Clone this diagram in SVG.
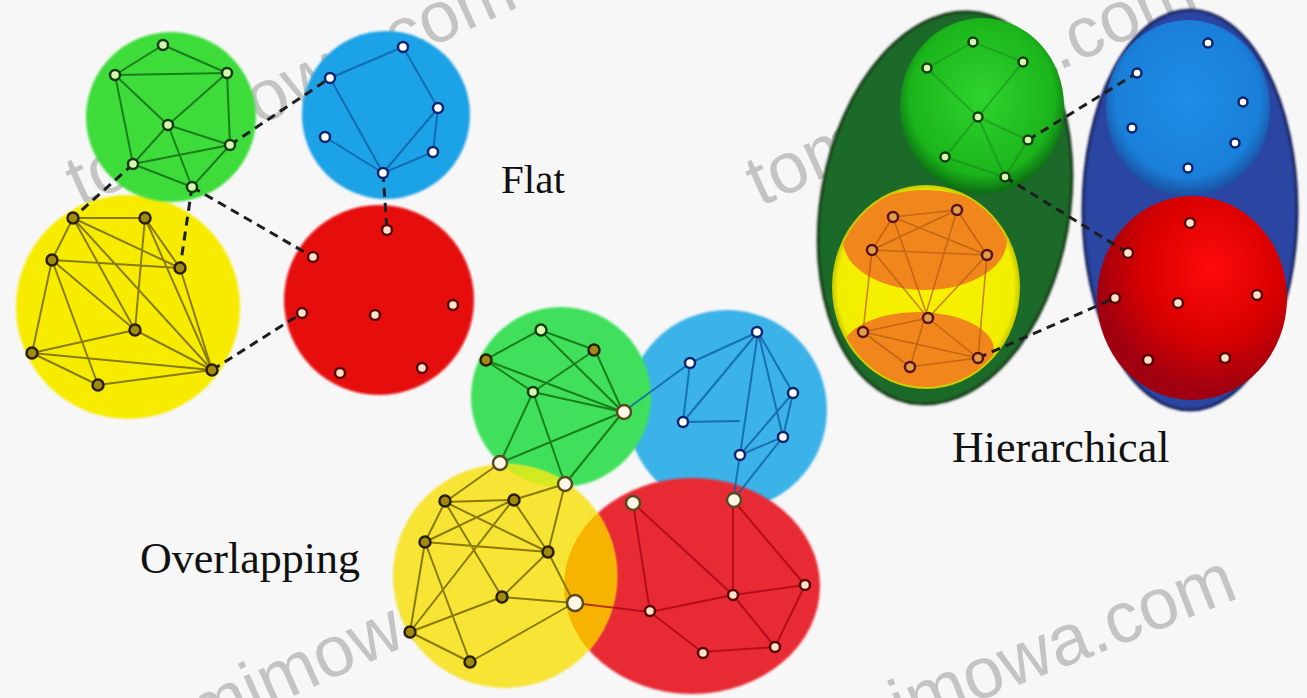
<svg xmlns="http://www.w3.org/2000/svg" width="1307" height="698" viewBox="0 0 1307 698">
<defs>
<style>
.lbl{font-family:"Liberation Serif","Times New Roman",serif;fill:#111}
.wm{font-family:"Liberation Sans",Arial,sans-serif;font-size:72px;fill:#c4c4c4}
.dash{stroke:#1e1e1e;stroke-width:3;stroke-dasharray:9 6;fill:none}
.eg{stroke:#1a7f1a;stroke-width:2;fill:none}
.eb{stroke:#0f5fa8;stroke-width:2;fill:none;opacity:0.8}
.ey{stroke:#8a7a00;stroke-width:2;fill:none}
.er{stroke:#a00010;stroke-width:2;fill:none;opacity:0.7}
.eo{stroke:#b05a10;stroke-width:1.6;fill:none;opacity:0.7}
.ng{fill:#d6f7b0;stroke:#123d0c;stroke-width:2.5}
.nb{fill:#ffffff;stroke:#0a2470;stroke-width:2.5}
.nr{fill:#ffe2c8;stroke:#5a0000;stroke-width:2.5}
.ny{fill:#a08a10;stroke:#2a2000;stroke-width:2.5}
.ns{fill:#fff8e8;stroke:#5a4a20;stroke-width:2.5}
.no{fill:#e0a040;stroke:#5a1020;stroke-width:2.5}
</style>
<filter id="soft" x="-10%" y="-10%" width="120%" height="120%"><feGaussianBlur stdDeviation="1.2"/></filter>
<radialGradient id="gHG" cx="50%" cy="45%" r="55%"><stop offset="0" stop-color="#2ed42e"/><stop offset="0.8" stop-color="#1bb51b"/><stop offset="1" stop-color="#0c6a12"/></radialGradient>
<radialGradient id="gHB" cx="50%" cy="45%" r="55%"><stop offset="0" stop-color="#1e8ee6"/><stop offset="0.8" stop-color="#1a7fd8"/><stop offset="1" stop-color="#1a4fa0"/></radialGradient>
<radialGradient id="gHR" cx="60%" cy="35%" r="60%"><stop offset="0" stop-color="#ff0a0a"/><stop offset="0.6" stop-color="#d80000"/><stop offset="1" stop-color="#a00010"/></radialGradient>
<radialGradient id="gHY" cx="50%" cy="50%" r="52%"><stop offset="0" stop-color="#f8f000"/><stop offset="0.9" stop-color="#f2ee00"/><stop offset="1" stop-color="#a8b000"/></radialGradient>
<linearGradient id="gGY" x1="0" y1="0" x2="0" y2="1"><stop offset="0" stop-color="#60e040"/><stop offset="1" stop-color="#d8ea20"/></linearGradient>
<clipPath id="cYel"><ellipse cx="926" cy="287" rx="92" ry="100"/></clipPath>
<clipPath id="cOvY"><circle cx="505" cy="576" r="112"/></clipPath>
</defs>
<rect width="1307" height="698" fill="#f7f7f7"/>

<!-- watermarks (behind the clusters) -->
<g id="watermarks">
<text class="wm" transform="translate(80 207) rotate(-24.5)">tomimowa.com</text>
<text class="wm" transform="translate(760 207) rotate(-24.5)">tomimowa.com</text>
<text class="wm" transform="translate(145 762) rotate(-24)">tomimowa.com</text>
<text class="wm" transform="translate(790 775) rotate(-21.5)" font-size="75">tomimowa.com</text>
</g>

<!-- FLAT clusters -->
<g id="flat-yellow"><circle cx="128" cy="307" r="112" fill="#f7ec00" filter="url(#soft)"/></g>
<g id="flat-green"><circle cx="171" cy="117" r="85" fill="#3ddc3a" filter="url(#soft)"/></g>
<g id="flat-blue"><circle cx="386" cy="115" r="84" fill="#1fa2e6" filter="url(#soft)"/></g>
<g id="flat-red"><circle cx="379" cy="300" r="95" fill="#e60808" filter="url(#soft)"/></g>
<g id="flat-label"><text class="lbl" x="501" y="193" font-size="41">Flat</text></g>

<!-- OVERLAPPING clusters -->
<g id="ov-blue"><circle cx="727" cy="410" r="100" fill="#3ab2e8" filter="url(#soft)"/></g>
<g id="ov-red"><ellipse cx="692" cy="586" rx="128" ry="108" fill="#e82a34" filter="url(#soft)"/></g>
<g id="ov-green"><circle cx="561" cy="397" r="90" fill="#3fe05c" filter="url(#soft)"/></g>
<g id="ov-yellow"><circle cx="505" cy="576" r="112" fill="#f7e436" filter="url(#soft)"/>
<g clip-path="url(#cOvY)"><ellipse cx="692" cy="586" rx="128" ry="108" fill="#f6b400"/><circle cx="561" cy="397" r="90" fill="url(#gGY)"/></g></g>
<g id="ov-label"><text class="lbl" x="140" y="573" font-size="44">Overlapping</text></g>

<!-- HIERARCHICAL clusters -->
<g id="hi-green-outer"><ellipse cx="945" cy="208" rx="124" ry="198" transform="rotate(10 945 208)" fill="#1f6a2a" stroke="#143a18" stroke-width="3" filter="url(#soft)"/></g>
<g id="hi-blue-outer"><ellipse cx="1190" cy="210" rx="107" ry="200" fill="#2a44a2" stroke="#1a2860" stroke-width="3" filter="url(#soft)"/></g>
<g id="hi-green"><ellipse cx="982" cy="106" rx="82" ry="88" fill="url(#gHG)"/></g>
<g id="hi-yellow"><ellipse cx="926" cy="287" rx="94" ry="102" fill="url(#gHY)"/>
<g clip-path="url(#cYel)"><ellipse cx="925" cy="240" rx="82" ry="50" fill="#f0861c"/><ellipse cx="918" cy="350" rx="76" ry="38" fill="#f0861c"/></g></g>
<g id="hi-blue"><ellipse cx="1188" cy="108" rx="82" ry="88" fill="url(#gHB)"/></g>
<g id="hi-red"><ellipse cx="1192" cy="298" rx="95" ry="102" fill="url(#gHR)"/></g>
<g id="hi-label"><text class="lbl" x="952" y="462" font-size="44">Hierarchical</text></g>

<!-- CONNECTORS -->
<g id="connectors">
<path class="eg" d="M163 45L115 75M163 45L227 73M115 75L227 73M115 75L168 125M227 73L168 125M227 73L230 145M168 125L230 145M168 125L133 164M168 125L192 187M133 164L230 145M133 164L192 187M230 145L192 187M115 75L133 164"/>
<path class="eb" opacity="0.45" d="M403 47L330 78M403 47L438 108M330 78L383 173M438 108L433 152M438 108L383 173M433 152L383 173M325 137L383 173"/>
<path class="ey" d="M73 218L52 260M73 218L180 268M73 218L135 330M73 218L212 370M145 218L180 268M145 218L135 330M145 218L212 370M52 260L180 268M52 260L32 353M52 260L135 330M52 260L98 385M180 268L212 370M135 330L32 353M135 330L212 370M32 353L212 370M32 353L98 385M98 385L212 370M73 218L145 218"/>
<path class="dash" d="M230 145L330 78M133 164L73 218M192 187L180 268M192 187L313 257M212 370L302 313M383 173L387 230"/>
<path class="eg" d="M485 360L540 330M540 330L595 350M485 360L533 392M485 360L623 412M540 330L623 412M595 350L623 412M533 392L623 412M533 392L500 463M533 392L565 484M500 463L623 412M565 484L623 412M595 350L533 392"/>
<path class="eb" d="M623 412L690 363M690 363L758 332M690 363L683 422M683 422L758 332M683 422L740 421M758 332L793 393M758 332L783 437M793 393L783 437M793 393L740 455M783 437L740 455M740 455L733 500M783 437L733 500M758 332L740 455"/>
<path class="ey" d="M500 463L445 502M445 502L513 500M445 502L548 552M445 502L425 542M445 502L502 597M513 500L548 552M513 500L425 542M425 542L548 552M425 542L410 632M425 542L470 662M548 552L502 597M548 552L574 603M502 597L410 632M502 597L574 603M410 632L470 662M470 662L574 603M565 484L548 552M513 500L410 632M565 484L513 500"/>
<path class="er" d="M633 503L650 612M633 503L733 595M733 500L805 585M733 500L733 595M650 612L733 595M733 595L805 585M733 595L775 647M650 612L702 652M702 652L775 647M805 585L775 647M574 603L650 612"/>
<path class="eg" opacity="0.45" d="M927 68L973 42M973 42L1023 62M927 68L978 117M1023 62L978 117M978 117L1028 140M978 117L945 157M978 117L1005 177M945 157L1005 177M1028 140L1005 177"/>
<path class="eo" d="M893 217L957 210M893 217L872 250M893 217L987 255M893 217L928 318M957 210L987 255M957 210L872 250M872 250L987 255M872 250L863 332M872 250L928 318M987 255L928 318M987 255L978 358M928 318L863 332M928 318L978 358M863 332L910 367M910 367L978 358M863 332L978 358M957 210L910 367"/>
<path class="dash" d="M1028 140L1137 73M1005 177L1128 253M978 358L1115 298"/>
</g>

<!-- NODE DOTS -->
<g id="flat-green-nodes"><circle class="ng" cx="163" cy="45" r="5"/><circle class="ng" cx="115" cy="75" r="5"/><circle class="ng" cx="227" cy="73" r="5"/><circle class="ng" cx="168" cy="125" r="5"/><circle class="ng" cx="230" cy="145" r="5"/><circle class="ng" cx="133" cy="164" r="5"/><circle class="ng" cx="192" cy="187" r="5"/></g>
<g id="flat-blue-nodes"><circle class="nb" cx="403" cy="47" r="5"/><circle class="nb" cx="330" cy="78" r="5"/><circle class="nb" cx="438" cy="108" r="5"/><circle class="nb" cx="325" cy="137" r="5"/><circle class="nb" cx="433" cy="152" r="5"/><circle class="nb" cx="383" cy="173" r="5"/></g>
<g id="flat-red-nodes"><circle class="nr" cx="387" cy="230" r="5"/><circle class="nr" cx="313" cy="257" r="5"/><circle class="nr" cx="453" cy="305" r="5"/><circle class="nr" cx="375" cy="315" r="5"/><circle class="nr" cx="302" cy="313" r="5"/><circle class="nr" cx="340" cy="373" r="5"/><circle class="nr" cx="422" cy="368" r="5"/></g>
<g id="flat-yellow-nodes"><circle class="ny" cx="73" cy="218" r="5.5"/><circle class="ny" cx="145" cy="218" r="5.5"/><circle class="ny" cx="52" cy="260" r="5.5"/><circle class="ny" cx="180" cy="268" r="5.5"/><circle class="ny" cx="135" cy="330" r="5.5"/><circle class="ny" cx="32" cy="353" r="5.5"/><circle class="ny" cx="212" cy="370" r="5.5"/><circle class="ny" cx="98" cy="385" r="5.5"/></g>

<g id="ov-green-nodes"><circle class="ng" cx="541" cy="330" r="5.5"/><circle class="ny" cx="486" cy="360" r="5.5"/><circle class="ny" cx="594" cy="350" r="5.5"/><circle class="ng" cx="533" cy="392" r="5"/></g>
<g id="ov-shared-nodes"><circle class="ns" cx="624" cy="412" r="7"/><circle class="ns" cx="500" cy="463" r="7"/><circle class="ns" cx="565" cy="484" r="7"/><circle class="ns" cx="633" cy="503" r="7"/><circle class="ns" cx="734" cy="500" r="7"/><circle class="ns" cx="575" cy="603" r="8"/></g>
<g id="ov-blue-nodes"><circle class="nb" cx="757" cy="332" r="5"/><circle class="nb" cx="690" cy="363" r="5"/><circle class="nb" cx="793" cy="393" r="5"/><circle class="nb" cx="683" cy="422" r="5"/><circle class="nb" cx="783" cy="437" r="5"/><circle class="nb" cx="740" cy="455" r="5"/></g>
<g id="ov-yellow-nodes"><circle class="ny" cx="445" cy="501" r="5.5"/><circle class="ny" cx="514" cy="500" r="5.5"/><circle class="ny" cx="425" cy="542" r="5.5"/><circle class="ny" cx="548" cy="552" r="5.5"/><circle class="ny" cx="502" cy="597" r="5.5"/><circle class="ny" cx="410" cy="632" r="5.5"/><circle class="ny" cx="470" cy="662" r="5.5"/></g>
<g id="ov-red-nodes"><circle class="nr" cx="805" cy="585" r="5"/><circle class="nr" cx="733" cy="595" r="5"/><circle class="nr" cx="650" cy="611" r="5"/><circle class="nr" cx="703" cy="653" r="5"/><circle class="nr" cx="775" cy="647" r="5"/></g>

<g id="hi-green-nodes"><circle class="ng" cx="973" cy="42" r="4.5"/><circle class="ng" cx="927" cy="68" r="4.5"/><circle class="ng" cx="1023" cy="62" r="4.5"/><circle class="ng" cx="978" cy="117" r="4.5"/><circle class="ng" cx="1028" cy="140" r="4.5"/><circle class="ng" cx="945" cy="157" r="4.5"/><circle class="ng" cx="1005" cy="177" r="4.5"/></g>
<g id="hi-yellow-nodes"><circle class="no" cx="893" cy="217" r="5"/><circle class="no" cx="957" cy="210" r="5"/><circle class="no" cx="872" cy="250" r="5"/><circle class="no" cx="987" cy="255" r="5"/><circle class="no" cx="928" cy="318" r="5"/><circle class="no" cx="863" cy="332" r="5"/><circle class="no" cx="978" cy="358" r="5"/><circle class="no" cx="910" cy="367" r="5"/></g>
<g id="hi-blue-nodes"><circle class="nb" cx="1208" cy="43" r="4.5"/><circle class="nb" cx="1137" cy="73" r="4.5"/><circle class="nb" cx="1243" cy="102" r="4.5"/><circle class="nb" cx="1132" cy="128" r="4.5"/><circle class="nb" cx="1235" cy="143" r="4.5"/><circle class="nb" cx="1188" cy="168" r="4.5"/></g>
<g id="hi-red-nodes"><circle class="nr" cx="1190" cy="223" r="5"/><circle class="nr" cx="1128" cy="253" r="5"/><circle class="nr" cx="1257" cy="295" r="5"/><circle class="nr" cx="1115" cy="298" r="5"/><circle class="nr" cx="1178" cy="303" r="5"/><circle class="nr" cx="1148" cy="360" r="5"/><circle class="nr" cx="1225" cy="358" r="5"/></g>
</svg>
